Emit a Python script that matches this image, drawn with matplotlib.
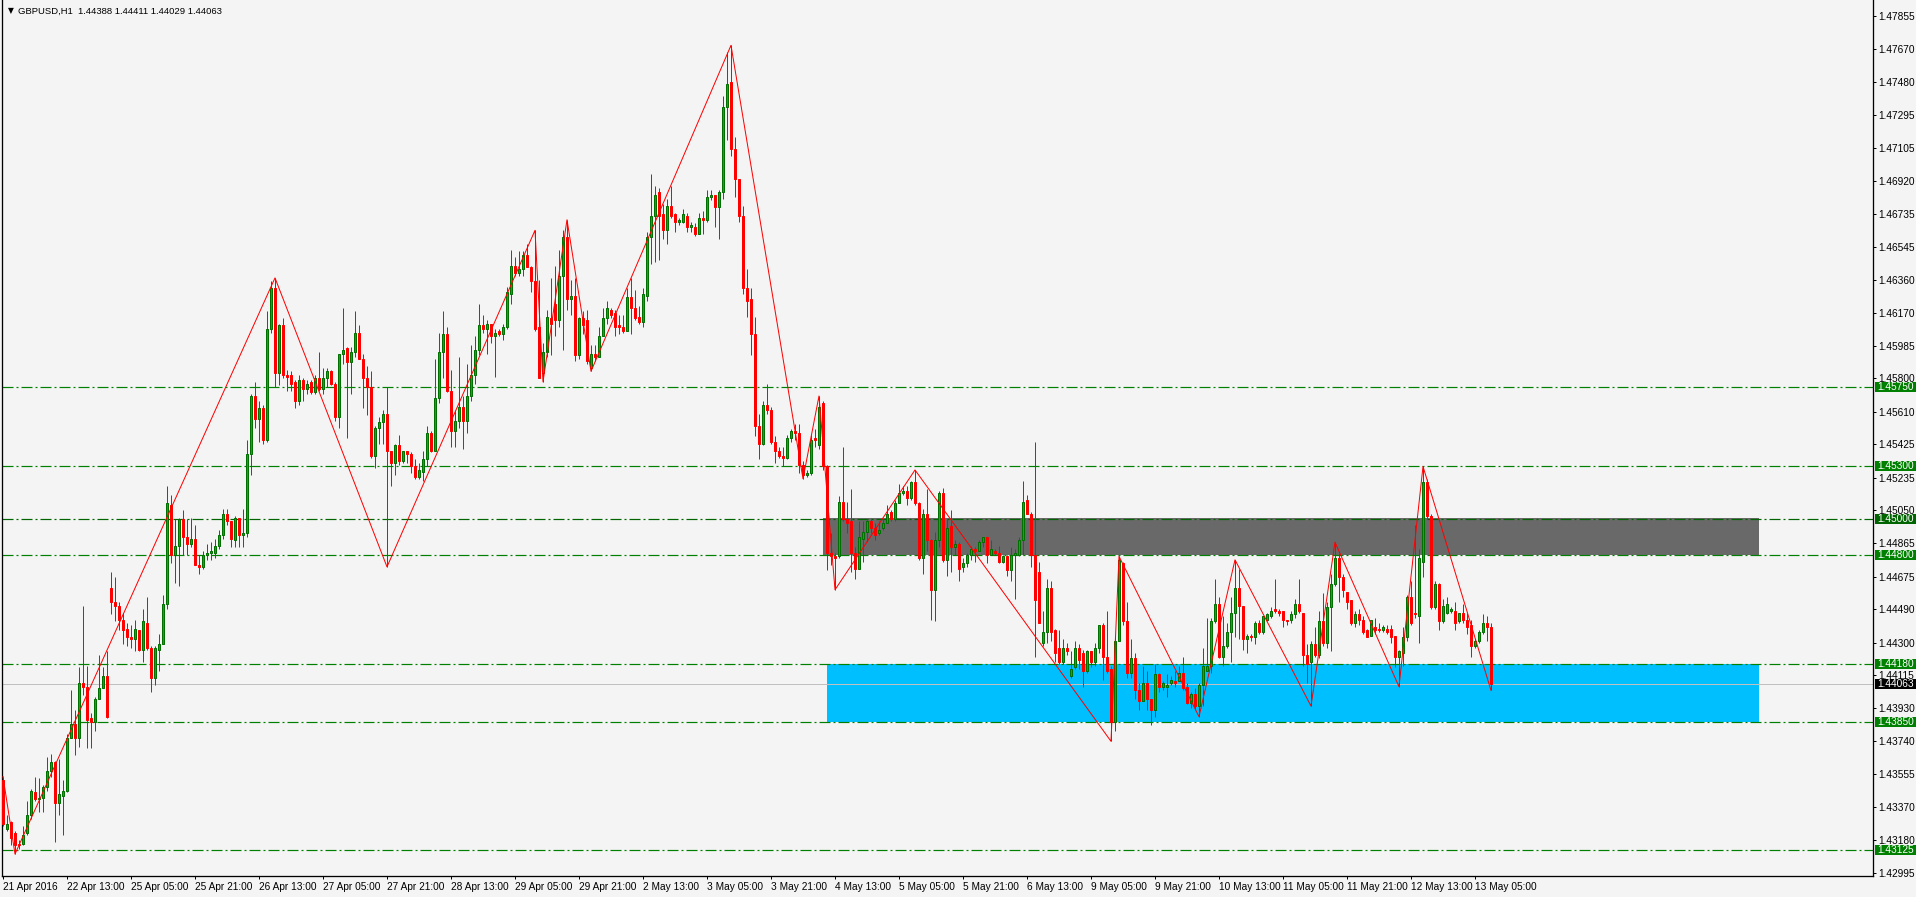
import numpy as np
import matplotlib.pyplot as plt
from matplotlib.patches import Rectangle

plt.rcParams['font.family'] = ['Liberation Sans', 'DejaVu Sans']
plt.rcParams['lines.scale_dashes'] = False

# GBPUSD H1 candles, values in pips above 1.4000 (bar 0 = 21 Apr 21:00)
opens = [
    352, 324, 328, 322, 316, 316, 322, 332, 345, 341,
    342, 348, 357, 362, 339, 343, 346, 376, 384, 376,
    407, 405, 387, 385, 398, 404, 411, 461, 453, 451,
    443, 438, 433, 432, 437, 426, 441, 427, 410, 426,
    429, 452, 508, 480, 485, 500, 490, 486, 489, 474,
    473, 480, 481, 481, 485, 491, 503, 499, 488, 501,
    491, 492, 537, 570, 557, 563, 545, 608, 631, 583,
    610, 582, 582, 578, 567, 579, 574, 578, 572, 580,
    574, 580, 584, 577, 558, 594, 597, 589, 595, 606,
    591, 580, 575, 536, 552, 555, 560, 539, 532, 542,
    533, 539, 537, 530, 524, 527, 534, 549, 539, 569,
    595, 605, 573, 550, 556, 564, 556, 570, 582, 596,
    610, 608, 611, 604, 607, 605, 609, 628, 644, 640,
    642, 650, 643, 635, 609, 583, 595, 614, 622, 613,
    638, 660, 625, 627, 593, 614, 613, 586, 594, 592,
    604, 614, 619, 617, 610, 609, 607, 626, 620, 615,
    612, 627, 660, 672, 686, 673, 664, 678, 673, 669,
    669, 672, 666, 666, 662, 671, 670, 683, 684, 677,
    686, 734, 748, 710, 693, 672, 631, 625, 605, 553,
    543, 565, 562, 544, 539, 536, 535, 546, 550, 549,
    531, 525, 526, 546, 542, 566, 530, 481, 479, 479,
    510, 500, 499, 481, 472, 489, 493, 499, 495, 492,
    495, 498, 504, 500, 509, 515, 516, 512, 521, 509,
    478, 503, 488, 460, 488, 515, 477, 496, 484, 486,
    473, 475, 480, 483, 482, 487, 490, 480, 482, 481,
    476, 479, 471, 480, 480, 488, 511, 503, 480, 470,
    430, 436, 461, 437, 427, 419, 427, 411, 416, 427,
    424, 414, 425, 419, 427, 440, 422, 415, 385, 431,
    475, 442, 413, 421, 403, 397, 407, 398, 392, 412,
    405, 405, 407, 408, 408, 413, 405, 396, 401, 394,
    406, 414, 417, 442, 452, 422, 428, 436, 447, 461,
    451, 432, 434, 433, 441, 436, 443, 445, 449, 448,
    448, 443, 443, 446, 452, 447, 423, 419, 429, 423,
    442, 430, 450, 463, 478, 467, 459, 454, 441, 446,
    443, 437, 434, 439, 438, 437, 438, 438, 434, 422,
    424, 433, 456, 447, 445, 476, 521, 502, 450, 463,
    442, 447, 448, 448, 442, 447, 443, 440, 428, 431,
    436, 441, 438.8]
highs = [
    354, 332, 329, 323, 318, 326, 340, 347, 354, 353,
    349, 365, 367, 363, 364, 352, 378, 403, 392, 416,
    451, 417, 390, 399, 423, 416, 425, 470, 467, 453,
    447, 441, 440, 443, 437, 449, 456, 428, 428, 435,
    457, 519, 514, 500, 501, 505, 500, 501, 497, 480,
    482, 486, 487, 489, 494, 506, 506, 499, 502, 501,
    506, 545, 571, 578, 567, 565, 618, 635, 637, 611,
    614, 585, 584, 579, 582, 580, 579, 579, 582, 595,
    586, 586, 585, 578, 594, 620, 598, 598, 618, 610,
    594, 587, 584, 553, 558, 562, 575, 539, 543, 548,
    539, 539, 538, 534, 532, 539, 553, 550, 591, 606,
    618, 609, 585, 562, 592, 570, 588, 599, 604, 622,
    616, 613, 611, 608, 608, 611, 632, 653, 649, 652,
    652, 656, 644, 664, 636, 600, 619, 637, 644, 653,
    664, 670, 636, 637, 615, 618, 619, 599, 599, 609,
    620, 624, 620, 619, 616, 616, 631, 637, 630, 621,
    631, 663, 696, 689, 688, 679, 682, 689, 674, 671,
    676, 674, 669, 668, 674, 675, 687, 687, 684, 687,
    740, 765, 769, 717, 693, 678, 642, 631, 615, 560,
    567, 577, 564, 547, 541, 541, 548, 551, 554, 554,
    533, 528, 548, 551, 570, 567, 531, 492, 481, 513,
    541, 510, 517, 484, 499, 499, 500, 500, 498, 499,
    500, 508, 505, 511, 520, 519, 519, 522, 528, 510,
    506, 517, 489, 493, 516, 518, 500, 505, 488, 487,
    478, 481, 485, 484, 488, 490, 490, 488, 483, 485,
    480, 480, 484, 483, 490, 522, 514, 504, 544, 476,
    448, 466, 465, 438, 437, 432, 430, 425, 431, 429,
    426, 426, 425, 430, 440, 441, 448, 417, 434, 479,
    476, 453, 432, 424, 407, 417, 414, 398, 418, 413,
    408, 412, 411, 414, 417, 422, 407, 402, 404, 407,
    427, 444, 444, 466, 456, 445, 441, 456, 477, 472,
    451, 435, 435, 442, 443, 445, 447, 450, 466, 449,
    448, 443, 448, 455, 466, 447, 429, 431, 439, 448,
    458, 453, 469, 487, 481, 469, 459, 454, 448, 449,
    445, 438, 443, 444, 441, 440, 440, 440, 434, 426,
    439, 457, 465, 497, 483, 530, 523, 503, 465, 464,
    455, 456, 450, 453, 447, 452, 447, 443, 432, 437,
    446, 445, 441.1]
lows = [
    326, 323, 315, 310, 313, 315, 321, 330, 340, 334,
    334, 346, 354, 317, 332, 321, 345, 376, 366, 371,
    400, 370, 370, 380, 398, 404, 387, 446, 442, 437,
    429, 428, 427, 425, 425, 419, 426, 402, 406, 414,
    429, 449, 475, 464, 462, 480, 480, 484, 474, 469,
    472, 477, 477, 478, 483, 489, 497, 484, 484, 484,
    484, 490, 525, 552, 544, 543, 544, 606, 575, 576,
    580, 573, 573, 563, 565, 567, 571, 571, 571, 573,
    571, 575, 576, 556, 552, 588, 546, 571, 592, 591,
    563, 559, 535, 529, 543, 543, 473, 519, 525, 531,
    532, 532, 526, 523, 523, 522, 530, 538, 539, 566,
    580, 572, 541, 541, 552, 540, 549, 567, 577, 593,
    606, 594, 600, 581, 604, 602, 608, 622, 638, 638,
    638, 643, 629, 607, 580, 578, 592, 593, 604, 609,
    596, 619, 616, 590, 591, 605, 588, 584, 590, 592,
    604, 611, 614, 604, 605, 606, 607, 605, 613, 611,
    609, 624, 645, 646, 647, 659, 656, 671, 663, 667,
    668, 663, 663, 661, 662, 662, 669, 681, 666, 659,
    682, 715, 706, 683, 669, 628, 615, 593, 547, 534,
    542, 560, 543, 532, 535, 530, 534, 544, 545, 526,
    523, 524, 525, 541, 540, 528, 471, 474, 460, 478,
    499, 492, 470, 466, 472, 476, 487, 492, 488, 491,
    494, 498, 499, 499, 509, 514, 508, 511, 508, 477,
    469, 482, 443, 442, 484, 476, 468, 470, 480, 465,
    470, 473, 477, 476, 482, 484, 475, 480, 480, 475,
    475, 468, 465, 455, 479, 480, 503, 473, 422, 441,
    428, 430, 431, 419, 418, 418, 423, 410, 415, 415,
    405, 413, 416, 417, 424, 409, 413, 374, 380, 431,
    440, 410, 410, 398, 392, 397, 392, 383, 388, 402,
    403, 399, 406, 405, 408, 403, 395, 393, 392, 388,
    394, 414, 413, 441, 421, 417, 427, 419, 433, 432,
    426, 424, 431, 429, 435, 435, 442, 444, 447, 445,
    439, 440, 441, 444, 447, 417, 407, 394, 422, 421,
    428, 427, 425, 462, 453, 456, 449, 440, 439, 440,
    435, 433, 434, 435, 436, 436, 435, 430, 416, 405,
    417, 431, 440, 444, 430, 467, 500, 449, 449, 437,
    441, 446, 447, 437, 441, 441, 435, 422, 427, 430,
    435, 431, 402.9]
closes = [
    327, 327, 319, 315, 315, 321, 332, 346, 341, 342,
    348, 357, 362, 339, 344, 346, 376, 384, 376, 407,
    405, 386, 385, 398, 404, 411, 388, 453, 451, 443,
    437, 433, 432, 438, 426, 442, 427, 410, 427, 429,
    452, 509, 480, 485, 500, 490, 486, 489, 474, 473,
    480, 481, 482, 485, 491, 503, 499, 489, 501, 491,
    492, 537, 570, 557, 563, 545, 608, 631, 583, 610,
    582, 581, 577, 567, 579, 574, 577, 572, 580, 574,
    580, 584, 577, 558, 594, 596, 589, 595, 606, 591,
    580, 575, 536, 552, 555, 560, 539, 532, 542, 533,
    539, 537, 530, 524, 528, 534, 549, 539, 569, 595,
    605, 573, 550, 556, 564, 556, 570, 582, 596, 610,
    608, 611, 604, 606, 605, 609, 629, 644, 640, 642,
    650, 643, 635, 608, 580, 595, 615, 611, 613, 638,
    660, 625, 627, 593, 614, 610, 590, 594, 592, 604,
    614, 620, 616, 609, 609, 607, 626, 620, 614, 612,
    628, 660, 672, 684, 672, 664, 678, 672, 669, 670,
    673, 666, 667, 662, 671, 670, 683, 684, 677, 686,
    734, 747, 710, 693, 672, 631, 624, 605, 553, 543,
    565, 562, 544, 539, 536, 535, 546, 550, 549, 531,
    525, 526, 545, 545, 564, 530, 481, 479, 478, 510,
    500, 498, 481, 472, 490, 493, 499, 495, 491, 494,
    498, 503, 500, 509, 515, 516, 512, 521, 509, 478,
    503, 488, 460, 488, 515, 477, 495, 484, 486, 472,
    475, 480, 483, 482, 487, 490, 480, 483, 481, 476,
    479, 471, 480, 481, 488, 510, 503, 480, 454, 441,
    436, 461, 436, 424, 419, 427, 425, 415, 427, 420,
    414, 425, 419, 427, 440, 422, 414, 385, 431, 477,
    442, 413, 421, 403, 397, 407, 398, 392, 412, 405,
    407, 406, 409, 407, 413, 404, 396, 401, 394, 406,
    417, 417, 442, 452, 422, 428, 436, 447, 461, 451,
    432, 434, 433, 441, 436, 445, 446, 448, 448, 447,
    443, 442, 446, 452, 448, 423, 418, 429, 423, 442,
    430, 450, 463, 478, 467, 460, 453, 441, 446, 443,
    436, 433, 443, 437, 437, 439, 436, 433, 422, 425,
    433, 456, 441, 446, 478, 521, 502, 450, 463, 442,
    451, 452, 449, 441, 447, 443, 439, 428, 431, 436,
    441, 439, 406.3]

# zigzag pivots: (bar index, 'H' = high / 'L' = low)
zz_bars = [0, 3, 68, 96, 133, 135, 141, 147, 182, 200, 204, 208, 228, 277,
           279, 299, 308, 327, 333, 349, 355, 372]
zz_kind = ['H', 'L', 'H', 'L', 'H', 'L', 'H', 'L', 'H', 'L', 'H', 'L', 'H', 'L',
           'H', 'L', 'H', 'L', 'H', 'L', 'H', 'L']

levels = [1.45750, 1.45300, 1.45000, 1.44800, 1.44180, 1.43850, 1.43125]
level_colors = ['#008000', '#008000', '#006400', '#008000', '#008000', '#008000', '#008000']
last_price = 1.44063

# rectangles: bar from, bar to, price low, price high, colour
zone_x0 = [205.0, 206.0]
zone_x1 = [439.0, 439.0]
zone_lo = [1.44800, 1.43850]
zone_hi = [1.45010, 1.44180]
zone_col = ['#696969', '#00BFFF']

price_ticks = [1.47855, 1.47670, 1.47480, 1.47295, 1.47105, 1.46920, 1.46735,
               1.46545, 1.46360, 1.46170, 1.45985, 1.45800, 1.45610, 1.45425,
               1.45235, 1.45050, 1.44865, 1.44675, 1.44490, 1.44300, 1.44115,
               1.43930, 1.43740, 1.43555, 1.43370, 1.43180, 1.42995]
time_labels = ['21 Apr 2016', '22 Apr 13:00', '25 Apr 05:00', '25 Apr 21:00',
               '26 Apr 13:00', '27 Apr 05:00', '27 Apr 21:00', '28 Apr 13:00',
               '29 Apr 05:00', '29 Apr 21:00', '2 May 13:00', '3 May 05:00',
               '3 May 21:00', '4 May 13:00', '5 May 05:00', '5 May 21:00',
               '6 May 13:00', '9 May 05:00', '9 May 21:00', '10 May 13:00',
               '11 May 05:00', '11 May 21:00', '12 May 13:00', '13 May 05:00']

bg = '#F4F4F4'
px = 0.72  # one pixel in points at dpi 100

o = 1.4 + np.array(opens) / 10000
h = 1.4 + np.array(highs) / 10000
l = 1.4 + np.array(lows) / 10000
c = 1.4 + np.array(closes) / 10000
x = np.arange(len(o))

fig = plt.figure(figsize=(19.16, 8.97), dpi=100, facecolor=bg)
ax = fig.add_axes([2 / 1916, 21 / 897, 1871 / 1916, 876 / 897])
ax.set_facecolor(bg)
ax.set_xlim(-0.25, 467.5)
ax.set_ylim(1.429756, 1.479472)

for x0, x1, lo, hi, col in zip(zone_x0, zone_x1, zone_lo, zone_hi, zone_col):
    ax.add_patch(Rectangle((x0, lo), x1 - x0, hi - lo, facecolor=col, edgecolor='none', zorder=1))

for lv, col in zip(levels, level_colors):
    ax.axhline(lv, color=col, lw=px * 1.2, dashes=(11 * px, 3 * px, 2 * px, 3 * px), zorder=2)
ax.axhline(last_price, color='#C0C0C0', lw=px, zorder=2)

# candles
bull = c >= o
wick_col = np.where(bull, '#008000', '#FF0000')
ax.vlines(x, np.minimum(l, np.minimum(o, c)), np.maximum(h, np.maximum(o, c)),
          colors=wick_col, lw=px, zorder=3)
body_lo = np.minimum(o, c)
body_h = np.abs(c - o)
ax.bar(x[bull], body_h[bull], bottom=body_lo[bull], width=0.5,
       color='#20A020', edgecolor='#007000', linewidth=px, zorder=4)
ax.bar(x[~bull], body_h[~bull], bottom=body_lo[~bull], width=0.5,
       color='#FF0000', edgecolor='#FF0000', linewidth=px, zorder=4)

# zigzag
zz_y = [h[b] if k == 'H' else l[b] for b, k in zip(zz_bars, zz_kind)]
ax.plot(zz_bars, zz_y, color='#FF0000', lw=px, zorder=5)

# axes styling
for s in ['left', 'right', 'bottom']:
    ax.spines[s].set_color('black')
    ax.spines[s].set_linewidth(px * 1.3)
ax.spines['top'].set_visible(False)

ax.yaxis.tick_right()
ax.set_yticks(price_ticks)
ax.set_yticklabels(['%.5f' % t for t in price_ticks])
ax.set_xticks(np.arange(len(time_labels)) * 16)
ax.set_xticklabels(time_labels, ha='left')
ax.tick_params(axis='both', length=3 * px, width=px, labelsize=7.3, colors='black')
ax.tick_params(axis='y', pad=1.5)
ax.tick_params(axis='x', pad=2)

# price tags on the right
ytr = ax.get_yaxis_transform()
box_h = 10 / 17620
tags = list(zip(levels, level_colors)) + [(last_price, '#000000')]
for lv, col in tags:
    ax.add_patch(Rectangle((1.0 + 2 / 1871, lv - box_h / 2), 41 / 1871, box_h,
                           transform=ytr, facecolor=col, edgecolor='none',
                           clip_on=False, zorder=10))
    ax.text(1.0 + 4 / 1871, lv, '%.5f' % lv, transform=ytr, color='white',
            fontsize=7.3, va='center', ha='left', clip_on=False, zorder=11)

fig.text(8 / 1916, 1 - 11 / 897, '\u25BC', fontsize=5.5, va='center', ha='left',
         family=['DejaVu Sans'])
fig.text(18 / 1916, 1 - 11 / 897, 'GBPUSD,H1  1.44388 1.44411 1.44029 1.44063',
         fontsize=6.8, va='center', ha='left')

fig.savefig('out.png', dpi=100, facecolor=bg)
